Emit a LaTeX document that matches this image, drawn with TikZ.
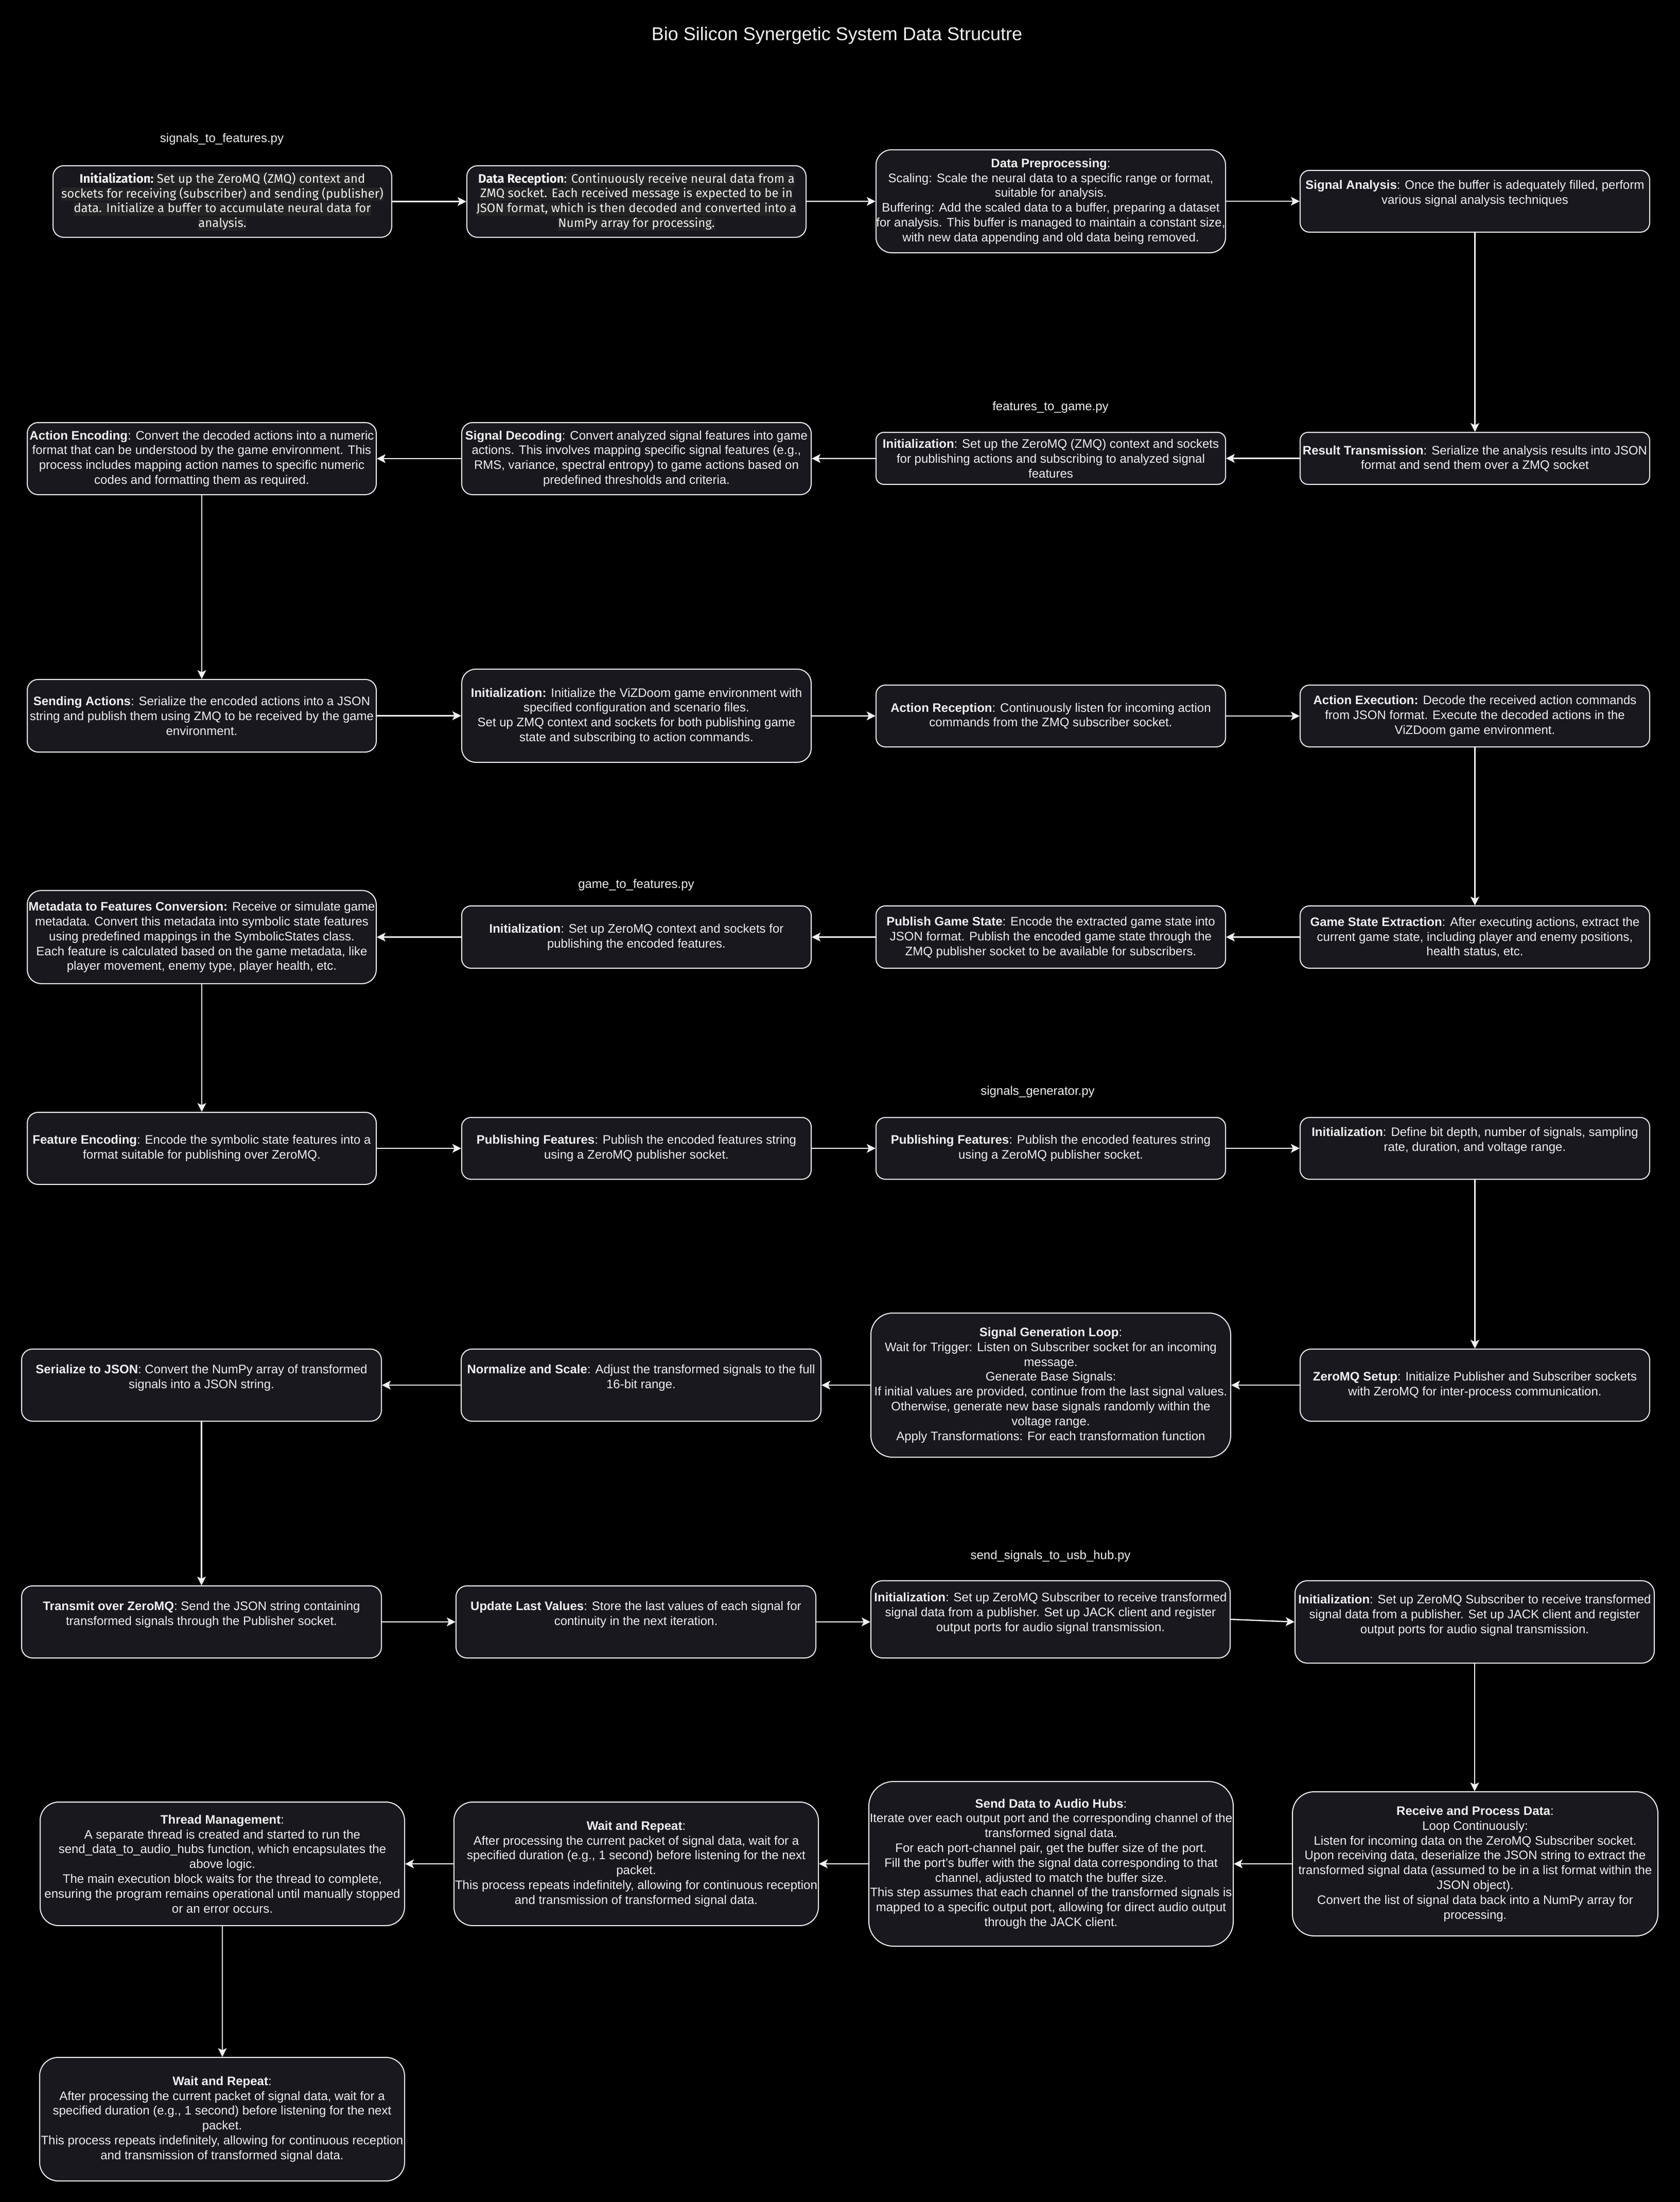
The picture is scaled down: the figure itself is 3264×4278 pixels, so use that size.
\documentclass[tikz,border=0pt]{standalone}
\usepackage{fontspec}
\setmainfont{Liberation Sans}
\newfontfamily\ubfont{Fira Sans}
\usetikzlibrary{arrows.meta,fit,calc}
\definecolor{boxfill}{HTML}{19181F}
\definecolor{fg}{HTML}{F0F0F0}
\definecolor{hlc}{HTML}{242424}
\newcommand\hl[1]{{\setlength{\fboxsep}{0pt}\colorbox{hlc}{\rule[-0.27em]{0pt}{1.1em}#1}}}
\newcommand\bxt[8]{%
  \node[box, rounded corners=#6pt, fit={(#2,#3) (#4,#5)}] (#1) {};
  \node[txt] (#1-t) at (#1.center |- 0,#7) {#8};}
\begin{document}
\begin{tikzpicture}[x=0.5pt,y=-0.5pt,
  box/.style={draw=fg, line width=1pt, fill=boxfill, inner sep=0pt},
  txt/.style={text=fg, align=center, inner sep=0pt, font=\fontsize{12}{14.4}\selectfont},
  ubtxt/.style={txt, font=\ubfont\fontsize{12}{14.4}\selectfont},
  lbl/.style={text=fg, inner sep=0pt, font=\fontsize{12}{14.4}\selectfont},
  ttl/.style={text=fg, inner sep=0pt, font=\fontsize{18}{21.6}\selectfont},
  arr/.style={draw=fg, line width=1.2pt, -{Stealth[length=8.5pt,width=8.5pt,inset=2pt]}}]
\fill[black] (0,0) rectangle (3264,4278);

\node[ttl] (title) at (1626,69) {Bio Silicon Synergetic System Data Strucutre};

% labels
\node[lbl] (lab1) at (431,270) {signals\_to\_features.py};
\node[lbl] (lab2) at (2041,791) {features\_to\_game.py};
\node[lbl] (lab3) at (1236,1719) {game\_to\_features.py};
\node[lbl] (lab4) at (2016,2121) {signals\_generator.py};
\node[lbl] (lab5) at (2041,3023) {send\_signals\_to\_usb\_hub.py};

% Row 1
\node[box, rounded corners=10.4pt, fit={(103,322) (761,461)}] (s2finit) {};
\node[ubtxt] (s2finit-t) at (s2finit.center) {\textbf{Initialization:}\hl{ Set up the ZeroMQ (ZMQ) context and}\\
\hl{sockets for receiving (subscriber) and sending (publisher)}\\
\hl{data. Initialize a buffer to accumulate neural data for}\\
\hl{analysis.}};
\node[box, rounded corners=10.4pt, fit={(907,322) (1566,461)}] (s2frecv) {};
\node[ubtxt] (s2frecv-t) at (s2frecv.center) {\textbf{Data Reception}\hl{: Continuously receive neural data from a}\\
\hl{ZMQ socket. Each received message is expected to be in}\\
\hl{JSON format, which is then decoded and converted into a}\\
\hl{NumPy array for processing.}};
\bxt{s2fpre}{1702}{291}{2381}{491}{15}{391}{\textbf{Data Preprocessing}:\\
Scaling: Scale the neural data to a specific range or format,\\
suitable for analysis.\\
Buffering: Add the scaled data to a buffer, preparing a dataset\\
for analysis. This buffer is managed to maintain a constant size,\\
with new data appending and old data being removed.}
\bxt{s2fana}{2526}{331}{3205}{451}{9}{376}{\textbf{Signal Analysis}: Once the buffer is adequately filled, perform\\
various signal analysis techniques}

% Row 2
\bxt{restx}{2526}{840}{3205}{941}{7.6}{891}{\textbf{Result Transmission}: Serialize the analysis results into JSON\\
format and send them over a ZMQ socket}
\bxt{f2ginit}{1702}{840}{2381}{941}{7.6}{891}{\textbf{Initialization}: Set up the ZeroMQ (ZMQ) context and sockets\\
for publishing actions and subscribing to analyzed signal\\
features}
\bxt{sigdec}{897}{821}{1576}{961}{10.5}{891}{\textbf{Signal Decoding}: Convert analyzed signal features into game\\
actions. This involves mapping specific signal features (e.g.,\\
RMS, variance, spectral entropy) to game actions based on\\
predefined thresholds and criteria.}
\bxt{actenc}{53}{821}{731}{961}{10.5}{891}{\textbf{Action Encoding}: Convert the decoded actions into a numeric\\
format that can be understood by the game environment. This\\
process includes mapping action names to specific numeric\\
codes and formatting them as required.}

% Row 3
\bxt{sendact}{53}{1320}{731}{1461}{10.5}{1391}{\textbf{Sending Actions}: Serialize the encoded actions into a JSON\\
string and publish them using ZMQ to be received by the game\\
environment.}
\bxt{vizinit}{897}{1300}{1576}{1481}{13.6}{1391}{\textbf{Initialization:} Initialize the ViZDoom game environment with\\
specified configuration and scenario files.\\
Set up ZMQ context and sockets for both publishing game\\
state and subscribing to action commands.}
\bxt{actrec}{1702}{1331}{2381}{1451}{9}{1391}{\textbf{Action Reception}: Continuously listen for incoming action\\
commands from the ZMQ subscriber socket.}
\bxt{actexe}{2526}{1331}{3205}{1451}{9}{1391}{\textbf{Action Execution:} Decode the received action commands\\
from JSON format. Execute the decoded actions in the\\
ViZDoom game environment.}

% Row 4
\bxt{gse}{2526}{1760}{3205}{1881}{9}{1821}{\textbf{Game State Extraction}: After executing actions, extract the\\
current game state, including player and enemy positions,\\
health status, etc.}
\bxt{pubgs}{1702}{1760}{2381}{1881}{9}{1821}{\textbf{Publish Game State}: Encode the extracted game state into\\
JSON format. Publish the encoded game state through the\\
ZMQ publisher socket to be available for subscribers.}
\bxt{g2finit}{897}{1760}{1576}{1881}{9}{1821}{\textbf{Initialization}: Set up ZeroMQ context and sockets for\\
publishing the encoded features.}
\bxt{meta}{53}{1730}{731}{1911}{13.6}{1821}{\textbf{Metadata to Features Conversion:} Receive or simulate game\\
metadata. Convert this metadata into symbolic state features\\
using predefined mappings in the SymbolicStates class.\\
Each feature is calculated based on the game metadata, like\\
player movement, enemy type, player health, etc.}

% Row 5
\bxt{featenc}{53}{2161}{731}{2301}{10.5}{2231}{\textbf{Feature Encoding}: Encode the symbolic state features into a\\
format suitable for publishing over ZeroMQ.}
\bxt{pubfa}{897}{2171}{1576}{2291}{9}{2231}{\textbf{Publishing Features}: Publish the encoded features string\\
using a ZeroMQ publisher socket.}
\bxt{pubfb}{1702}{2171}{2381}{2291}{9}{2231}{\textbf{Publishing Features}: Publish the encoded features string\\
using a ZeroMQ publisher socket.}
\bxt{sginit}{2526}{2171}{3205}{2291}{9}{2216}{\textbf{Initialization}: Define bit depth, number of signals, sampling\\
rate, duration, and voltage range.}

% Row 6
\bxt{zmqsetup}{2526}{2621}{3205}{2761}{10.5}{2691}{\textbf{ZeroMQ Setup}: Initialize Publisher and Subscriber sockets\\
with ZeroMQ for inter-process communication.}
\bxt{sgl}{1692}{2551}{2391}{2831}{21}{2691}{\textbf{Signal Generation Loop}:\\
Wait for Trigger: Listen on Subscriber socket for an incoming\\
message.\\
Generate Base Signals:\\
If initial values are provided, continue from the last signal values.\\
Otherwise, generate new base signals randomly within the\\
voltage range.\\
Apply Transformations: For each transformation function}
\bxt{norm}{896}{2621}{1595}{2761}{10.5}{2677}{\textbf{Normalize and Scale}: Adjust the transformed signals to the full\\
16-bit range.}
\bxt{serjson}{42}{2621}{741}{2761}{10.5}{2677}{\textbf{Serialize to JSON}: Convert the NumPy array of transformed\\
signals into a JSON string.}

% Row 7
\bxt{tx}{42}{3081}{741}{3221}{10.5}{3137}{\textbf{Transmit over ZeroMQ}: Send the JSON string containing\\
transformed signals through the Publisher socket.}
\bxt{upd}{886}{3081}{1585}{3221}{10.5}{3137}{\textbf{Update Last Values}: Store the last values of each signal for\\
continuity in the next iteration.}
\bxt{ssinita}{1692}{3071}{2390}{3221}{11.25}{3134}{\textbf{Initialization}: Set up ZeroMQ Subscriber to receive transformed\\
signal data from a publisher. Set up JACK client and register\\
output ports for audio signal transmission.}
\bxt{ssinitb}{2516}{3071}{3214}{3231}{12}{3138}{\textbf{Initialization}: Set up ZeroMQ Subscriber to receive transformed\\
signal data from a publisher. Set up JACK client and register\\
output ports for audio signal transmission.}

% Row 8
\bxt{rpd}{2511}{3481}{3221}{3761}{21}{3621}{\textbf{Receive and Process Data}:\\
Loop Continuously:\\
Listen for incoming data on the ZeroMQ Subscriber socket.\\
Upon receiving data, deserialize the JSON string to extract the\\
transformed signal data (assumed to be in a list format within the\\
JSON object).\\
Convert the list of signal data back into a NumPy array for\\
processing.}
\bxt{sdah}{1688}{3461}{2396}{3781}{24}{3621}{\textbf{Send Data to Audio Hubs}:\\
Iterate over each output port and the corresponding channel of the\\
transformed signal data.\\
For each port-channel pair, get the buffer size of the port.\\
Fill the port's buffer with the signal data corresponding to that\\
channel, adjusted to match the buffer size.\\
This step assumes that each channel of the transformed signals is\\
mapped to a specific output port, allowing for direct audio output\\
through the JACK client.}
\bxt{wara}{882}{3501}{1590}{3741}{18}{3621}{\textbf{Wait and Repeat}:\\
After processing the current packet of signal data, wait for a\\
specified duration (e.g., 1 second) before listening for the next\\
packet.\\
This process repeats indefinitely, allowing for continuous reception\\
and transmission of transformed signal data.}
\bxt{thread}{78}{3501}{786}{3741}{18}{3621}{\textbf{Thread Management}:\\
A separate thread is created and started to run the\\
send\_data\_to\_audio\_hubs function, which encapsulates the\\
above logic.\\
The main execution block waits for the thread to complete,\\
ensuring the program remains operational until manually stopped\\
or an error occurs.}

% Row 9
\bxt{warb}{77}{3997}{786}{4237}{18}{4117}{\textbf{Wait and Repeat}:\\
After processing the current packet of signal data, wait for a\\
specified duration (e.g., 1 second) before listening for the next\\
packet.\\
This process repeats indefinitely, allowing for continuous reception\\
and transmission of transformed signal data.}

% connectors
\draw[arr] (s2finit) -- (s2frecv);
\draw[arr] (s2frecv) -- (s2fpre);
\draw[arr] (s2fpre) -- (s2fana);
\draw[arr] (s2fana) -- (restx);
\draw[arr] (restx) -- (f2ginit);
\draw[arr] (f2ginit) -- (sigdec);
\draw[arr] (sigdec) -- (actenc);
\draw[arr] (actenc) -- (sendact);
\draw[arr] (sendact) -- (vizinit);
\draw[arr] (vizinit) -- (actrec);
\draw[arr] (actrec) -- (actexe);
\draw[arr] (actexe) -- (gse);
\draw[arr] (gse) -- (pubgs);
\draw[arr] (pubgs) -- (g2finit);
\draw[arr] (g2finit) -- (meta);
\draw[arr] (meta) -- (featenc);
\draw[arr] (featenc) -- (pubfa);
\draw[arr] (pubfa) -- (pubfb);
\draw[arr] (pubfb) -- (sginit);
\draw[arr] (sginit) -- (zmqsetup);
\draw[arr] (zmqsetup) -- (sgl);
\draw[arr] (sgl) -- (norm);
\draw[arr] (norm) -- (serjson);
\draw[arr] (serjson) -- (tx);
\draw[arr] (tx) -- (upd);
\draw[arr] (upd.east) -- (upd.east -| ssinita.west);
\draw[arr] (ssinita.east) -- (ssinitb.west);
\draw[arr] (ssinitb.south) -- (ssinitb.south |- rpd.north);
\draw[arr] (rpd) -- (sdah);
\draw[arr] (sdah) -- (wara);
\draw[arr] (wara) -- (thread);
\draw[arr] (thread.south) -- (thread.south |- warb.north);
\end{tikzpicture}
\end{document}
